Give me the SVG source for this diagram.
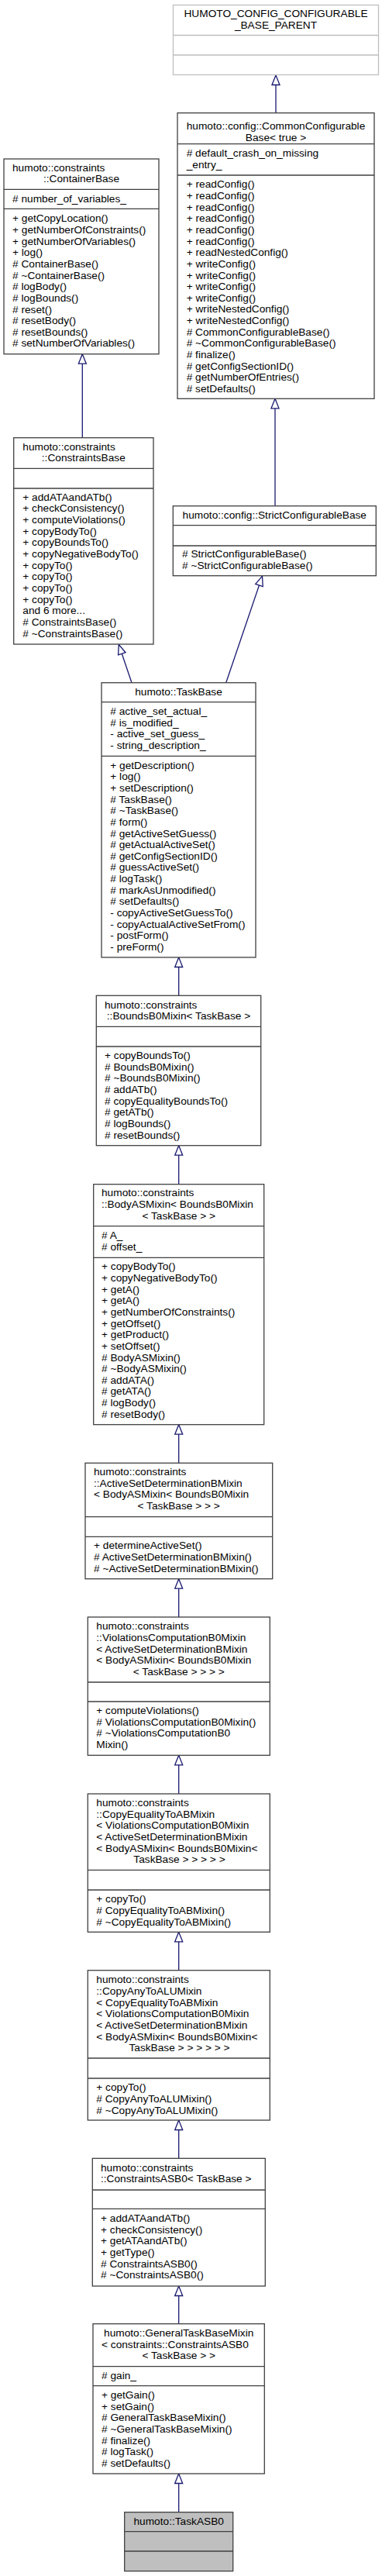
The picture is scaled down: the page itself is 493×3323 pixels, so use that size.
<svg xmlns="http://www.w3.org/2000/svg" width="493" height="3323" viewBox="0 0 493 3323">
<style>
text{font-family:"Liberation Sans",Arial,sans-serif;font-size:13.7px;fill:#000}
.m{text-anchor:middle}
.b{fill:#fff;stroke:#404040;stroke-width:1.3}
.s{stroke:#404040;stroke-width:1.3;fill:none}
.g{fill:#fff;stroke:#bfbfbf;stroke-width:1.3}
.gs{stroke:#bfbfbf;stroke-width:1.3;fill:none}
.e{stroke:#191970;stroke-width:1.3;fill:none;marker-end:url(#tri)}
</style>
<defs>
<marker id="tri" markerWidth="16" markerHeight="14" refX="14" refY="7" orient="auto" markerUnits="userSpaceOnUse" style="overflow:visible">
<path d="M1.5,2 L14,7 L1.5,12 Z" fill="#fff" stroke="#191970" stroke-width="1.3"/>
</marker>
</defs>
<rect width="493" height="3323" fill="#fff"/>
<g id="edges">
<path class="e" d="M356,145.7 V97"/>
<path class="e" d="M355,652.7 V514.3"/>
<path class="e" d="M106.3,564.7 V456.7"/>
<path class="e" d="M170,880.7 L153.3,831.5"/>
<path class="e" d="M291.7,880.7 L338.5,743.2"/>
<path class="e" d="M230.7,1284.3 V1235"/>
<path class="e" d="M230.7,1527.7 V1477.7"/>
<path class="e" d="M230.7,1887.3 V1837.7"/>
<path class="e" d="M230.7,2086 V2036.7"/>
<path class="e" d="M230.7,2314 V2264.3"/>
<path class="e" d="M230.7,2541.7 V2492.3"/>
<path class="e" d="M230.7,2784.3 V2735"/>
<path class="e" d="M230.7,2997.7 V2949"/>
<path class="e" d="M230.7,3240.7 V3191"/>
</g>
<g id="n_parent">
<rect class="g" x="223.5" y="6.5" width="265" height="90"/>
<path class="gs" d="M223.5,45.5 H488.5 M223.5,71 H488.5"/>
<text class="m" x="356" y="21.5">HUMOTO_CONFIG_CONFIGURABLE</text>
<text class="m" x="356" y="36.5">_BASE_PARENT</text>
</g>
<g id="n_common">
<rect class="b" x="229" y="145.7" width="254" height="368.6"/>
<path class="s" d="M229,185.7 H483 M229,226 H483"/>
<text class="m" x="356" y="166.7">humoto::config::CommonConfigurable</text>
<text class="m" x="356" y="181.7">Base&lt; true &gt;</text>
<text x="240.7" y="202.3">#  default_crash_on_missing</text>
<text x="240.7" y="217.3">_entry_</text>
<text x="240.7" y="242.3"><tspan x="240.7">+  readConfig()</tspan><tspan x="240.7" dy="14.65">+  readConfig()</tspan><tspan x="240.7" dy="14.65">+  readConfig()</tspan><tspan x="240.7" dy="14.65">+  readConfig()</tspan><tspan x="240.7" dy="14.65">+  readConfig()</tspan><tspan x="240.7" dy="14.65">+  readConfig()</tspan><tspan x="240.7" dy="14.65">+  readNestedConfig()</tspan><tspan x="240.7" dy="14.65">+  writeConfig()</tspan><tspan x="240.7" dy="14.65">+  writeConfig()</tspan><tspan x="240.7" dy="14.65">+  writeConfig()</tspan><tspan x="240.7" dy="14.65">+  writeConfig()</tspan><tspan x="240.7" dy="14.65">+  writeNestedConfig()</tspan><tspan x="240.7" dy="14.65">+  writeNestedConfig()</tspan><tspan x="240.7" dy="14.65">#  CommonConfigurableBase()</tspan><tspan x="240.7" dy="14.65">#  ~CommonConfigurableBase()</tspan><tspan x="240.7" dy="14.65">#  finalize()</tspan><tspan x="240.7" dy="14.65">#  getConfigSectionID()</tspan><tspan x="240.7" dy="14.65">#  getNumberOfEntries()</tspan><tspan x="240.7" dy="14.65">#  setDefaults()</tspan></text>
</g>
<g id="n_container">
<rect class="b" x="5" y="205" width="200" height="251.7"/>
<path class="s" d="M5,244.3 H205 M5,269.3 H205"/>
<text x="16" y="221">humoto::constraints</text>
<text class="m" x="105" y="235">::ContainerBase</text>
<text x="16" y="261">#  number_of_variables_</text>
<text x="16" y="286.3"><tspan x="16">+  getCopyLocation()</tspan><tspan x="16" dy="14.65">+  getNumberOfConstraints()</tspan><tspan x="16" dy="14.65">+  getNumberOfVariables()</tspan><tspan x="16" dy="14.65">+  log()</tspan><tspan x="16" dy="14.65">#  ContainerBase()</tspan><tspan x="16" dy="14.65">#  ~ContainerBase()</tspan><tspan x="16" dy="14.65">#  logBody()</tspan><tspan x="16" dy="14.65">#  logBounds()</tspan><tspan x="16" dy="14.65">#  reset()</tspan><tspan x="16" dy="14.65">#  resetBody()</tspan><tspan x="16" dy="14.65">#  resetBounds()</tspan><tspan x="16" dy="14.65">#  setNumberOfVariables()</tspan></text>
</g>
<g id="n_constraintsbase">
<rect class="b" x="17.7" y="564.7" width="180.3" height="266.3"/>
<path class="s" d="M17.7,604.3 H198 M17.7,630 H198"/>
<text x="29.3" y="581">humoto::constraints</text>
<text class="m" x="107.8" y="595">::ConstraintsBase</text>
<text x="29.3" y="645.7"><tspan x="29.3">+  addATAandATb()</tspan><tspan x="29.3" dy="14.67">+  checkConsistency()</tspan><tspan x="29.3" dy="14.67">+  computeViolations()</tspan><tspan x="29.3" dy="14.67">+  copyBodyTo()</tspan><tspan x="29.3" dy="14.67">+  copyBoundsTo()</tspan><tspan x="29.3" dy="14.67">+  copyNegativeBodyTo()</tspan><tspan x="29.3" dy="14.67">+  copyTo()</tspan><tspan x="29.3" dy="14.67">+  copyTo()</tspan><tspan x="29.3" dy="14.67">+  copyTo()</tspan><tspan x="29.3" dy="14.67">+  copyTo()</tspan><tspan x="29.3" dy="14.67">and 6 more...</tspan><tspan x="29.3" dy="14.67">#  ConstraintsBase()</tspan><tspan x="29.3" dy="14.67">#  ~ConstraintsBase()</tspan></text>
</g>
<g id="n_strict">
<rect class="b" x="223.3" y="652.7" width="262" height="90"/>
<path class="s" d="M223.3,677.7 H485.3 M223.3,704 H485.3"/>
<text class="m" x="354.3" y="669">humoto::config::StrictConfigurableBase</text>
<text x="235" y="719">#  StrictConfigurableBase()</text>
<text x="235" y="734">#  ~StrictConfigurableBase()</text>
</g>
<g id="n_taskbase">
<rect class="b" x="131" y="880.7" width="199" height="354.3"/>
<path class="s" d="M131,905.7 H330 M131,975.3 H330"/>
<text class="m" x="230.5" y="897.3">humoto::TaskBase</text>
<text x="142.3" y="922"><tspan x="142.3">#  active_set_actual_</tspan><tspan x="142.3" dy="14.67">#  is_modified_</tspan><tspan x="142.3" dy="14.67">-  active_set_guess_</tspan><tspan x="142.3" dy="14.67">-  string_description_</tspan></text>
<text x="142.3" y="991.7"><tspan x="142.3">+  getDescription()</tspan><tspan x="142.3" dy="14.64">+  log()</tspan><tspan x="142.3" dy="14.64">+  setDescription()</tspan><tspan x="142.3" dy="14.64">#  TaskBase()</tspan><tspan x="142.3" dy="14.64">#  ~TaskBase()</tspan><tspan x="142.3" dy="14.64">#  form()</tspan><tspan x="142.3" dy="14.64">#  getActiveSetGuess()</tspan><tspan x="142.3" dy="14.64">#  getActualActiveSet()</tspan><tspan x="142.3" dy="14.64">#  getConfigSectionID()</tspan><tspan x="142.3" dy="14.64">#  guessActiveSet()</tspan><tspan x="142.3" dy="14.64">#  logTask()</tspan><tspan x="142.3" dy="14.64">#  markAsUnmodified()</tspan><tspan x="142.3" dy="14.64">#  setDefaults()</tspan><tspan x="142.3" dy="14.64">-  copyActiveSetGuessTo()</tspan><tspan x="142.3" dy="14.64">-  copyActualActiveSetFrom()</tspan><tspan x="142.3" dy="14.64">-  postForm()</tspan><tspan x="142.3" dy="14.64">-  preForm()</tspan></text>
</g>
<g id="n_bounds">
<rect class="b" x="124.3" y="1284.3" width="212.4" height="193.4"/>
<path class="s" d="M124.3,1324.3 H336.7 M124.3,1350 H336.7"/>
<text x="135" y="1301">humoto::constraints</text>
<text class="m" x="230.5" y="1315">::BoundsB0Mixin&lt; TaskBase &gt;</text>
<text x="135" y="1366"><tspan x="135">+  copyBoundsTo()</tspan><tspan x="135" dy="14.65">#  BoundsB0Mixin()</tspan><tspan x="135" dy="14.65">#  ~BoundsB0Mixin()</tspan><tspan x="135" dy="14.65">#  addATb()</tspan><tspan x="135" dy="14.65">#  copyEqualityBoundsTo()</tspan><tspan x="135" dy="14.65">#  getATb()</tspan><tspan x="135" dy="14.65">#  logBounds()</tspan><tspan x="135" dy="14.65">#  resetBounds()</tspan></text>
</g>
<g id="n_bodyas">
<rect class="b" x="120.7" y="1527.7" width="220" height="310"/>
<path class="s" d="M120.7,1581.7 H340.7 M120.7,1622.3 H340.7"/>
<text x="131" y="1543.3">humoto::constraints</text>
<text x="131" y="1558.3">::BodyASMixin&lt; BoundsB0Mixin</text>
<text class="m" x="230.7" y="1572.7">&lt; TaskBase &gt; &gt;</text>
<text x="131" y="1598.3">#  A_</text>
<text x="131" y="1613.3">#  offset_</text>
<text x="131" y="1638.3"><tspan x="131">+  copyBodyTo()</tspan><tspan x="131" dy="14.65">+  copyNegativeBodyTo()</tspan><tspan x="131" dy="14.65">+  getA()</tspan><tspan x="131" dy="14.65">+  getA()</tspan><tspan x="131" dy="14.65">+  getNumberOfConstraints()</tspan><tspan x="131" dy="14.65">+  getOffset()</tspan><tspan x="131" dy="14.65">+  getProduct()</tspan><tspan x="131" dy="14.65">+  setOffset()</tspan><tspan x="131" dy="14.65">#  BodyASMixin()</tspan><tspan x="131" dy="14.65">#  ~BodyASMixin()</tspan><tspan x="131" dy="14.65">#  addATA()</tspan><tspan x="131" dy="14.65">#  getATA()</tspan><tspan x="131" dy="14.65">#  logBody()</tspan><tspan x="131" dy="14.65">#  resetBody()</tspan></text>
</g>
<g id="n_activeset">
<rect class="b" x="110" y="1887.3" width="241.7" height="149.4"/>
<path class="s" d="M110,1956.7 H351.7 M110,1982.3 H351.7"/>
<text x="121" y="1903.3"><tspan x="121">humoto::constraints</tspan><tspan x="121" dy="14.5">::ActiveSetDeterminationBMixin</tspan><tspan x="121" dy="14.5">&lt; BodyASMixin&lt; BoundsB0Mixin</tspan></text>
<text class="m" x="230.7" y="1946.8">&lt; TaskBase &gt; &gt; &gt;</text>
<text x="121" y="1998.3"><tspan x="121">+  determineActiveSet()</tspan><tspan x="121" dy="14.67">#  ActiveSetDeterminationBMixin()</tspan><tspan x="121" dy="14.67">#  ~ActiveSetDeterminationBMixin()</tspan></text>
</g>
<g id="n_violations">
<rect class="b" x="113.3" y="2086" width="235" height="178.3"/>
<path class="s" d="M113.3,2170 H348.3 M113.3,2195 H348.3"/>
<text x="124.3" y="2102.3"><tspan x="124.3">humoto::constraints</tspan><tspan x="124.3" dy="14.67">::ViolationsComputationB0Mixin</tspan><tspan x="124.3" dy="14.67">&lt; ActiveSetDeterminationBMixin</tspan><tspan x="124.3" dy="14.67">&lt; BodyASMixin&lt; BoundsB0Mixin</tspan></text>
<text class="m" x="230.8" y="2161">&lt; TaskBase &gt; &gt; &gt; &gt;</text>
<text x="124.3" y="2211"><tspan x="124.3">+  computeViolations()</tspan><tspan x="124.3" dy="14.67">#  ViolationsComputationB0Mixin()</tspan><tspan x="124.3" dy="14.67">#  ~ViolationsComputationB0</tspan><tspan x="124.3" dy="14.67">Mixin()</tspan></text>
</g>
<g id="n_copyeq">
<rect class="b" x="113.3" y="2314" width="235" height="178.3"/>
<path class="s" d="M113.3,2412.3 H348.3 M113.3,2438 H348.3"/>
<text x="124.3" y="2330"><tspan x="124.3">humoto::constraints</tspan><tspan x="124.3" dy="14.67">::CopyEqualityToABMixin</tspan><tspan x="124.3" dy="14.67">&lt; ViolationsComputationB0Mixin</tspan><tspan x="124.3" dy="14.67">&lt; ActiveSetDeterminationBMixin</tspan><tspan x="124.3" dy="14.67">&lt; BodyASMixin&lt; BoundsB0Mixin&lt;</tspan></text>
<text class="m" x="231.5" y="2403.3">TaskBase &gt; &gt; &gt; &gt; &gt;</text>
<text x="124.3" y="2454.3"><tspan x="124.3">+  copyTo()</tspan><tspan x="124.3" dy="14.67">#  CopyEqualityToABMixin()</tspan><tspan x="124.3" dy="14.67">#  ~CopyEqualityToABMixin()</tspan></text>
</g>
<g id="n_copyany">
<rect class="b" x="113.3" y="2541.7" width="235" height="193.3"/>
<path class="s" d="M113.3,2655 H348.3 M113.3,2681 H348.3"/>
<text x="124.3" y="2558.3"><tspan x="124.3">humoto::constraints</tspan><tspan x="124.3" dy="14.67">::CopyAnyToALUMixin</tspan><tspan x="124.3" dy="14.67">&lt; CopyEqualityToABMixin</tspan><tspan x="124.3" dy="14.67">&lt; ViolationsComputationB0Mixin</tspan><tspan x="124.3" dy="14.67">&lt; ActiveSetDeterminationBMixin</tspan><tspan x="124.3" dy="14.67">&lt; BodyASMixin&lt; BoundsB0Mixin&lt;</tspan></text>
<text class="m" x="231.5" y="2646.3">TaskBase &gt; &gt; &gt; &gt; &gt; &gt;</text>
<text x="124.3" y="2697.3"><tspan x="124.3">+  copyTo()</tspan><tspan x="124.3" dy="14.67">#  CopyAnyToALUMixin()</tspan><tspan x="124.3" dy="14.67">#  ~CopyAnyToALUMixin()</tspan></text>
</g>
<g id="n_asb0">
<rect class="b" x="119.3" y="2784.3" width="223" height="164.7"/>
<path class="s" d="M119.3,2825 H342.3 M119.3,2849.3 H342.3"/>
<text x="130" y="2801">humoto::constraints</text>
<text x="130" y="2815">::ConstraintsASB0&lt; TaskBase &gt;</text>
<text x="130" y="2866"><tspan x="130">+  addATAandATb()</tspan><tspan x="130" dy="14.67">+  checkConsistency()</tspan><tspan x="130" dy="14.67">+  getATAandATb()</tspan><tspan x="130" dy="14.67">+  getType()</tspan><tspan x="130" dy="14.67">#  ConstraintsASB0()</tspan><tspan x="130" dy="14.67">#  ~ConstraintsASB0()</tspan></text>
</g>
<g id="n_general">
<rect class="b" x="120" y="2997.7" width="221.3" height="193.3"/>
<path class="s" d="M120,3052.7 H341.3 M120,3077.7 H341.3"/>
<text class="m" x="230.7" y="3014.3">humoto::GeneralTaskBaseMixin</text>
<text x="131" y="3029">&lt; constraints::ConstraintsASB0</text>
<text class="m" x="230.7" y="3043.3">&lt; TaskBase &gt; &gt;</text>
<text x="131" y="3069.3">#  gain_</text>
<text x="131" y="3094"><tspan x="131">+  getGain()</tspan><tspan x="131" dy="14.67">+  setGain()</tspan><tspan x="131" dy="14.67">#  GeneralTaskBaseMixin()</tspan><tspan x="131" dy="14.67">#  ~GeneralTaskBaseMixin()</tspan><tspan x="131" dy="14.67">#  finalize()</tspan><tspan x="131" dy="14.67">#  logTask()</tspan><tspan x="131" dy="14.67">#  setDefaults()</tspan></text>
</g>
<g id="n_taskasb0">
<rect x="160.7" y="3240.7" width="140" height="76" fill="#bfbfbf" stroke="#404040" stroke-width="1.3"/>
<path class="s" d="M160.7,3265.7 H300.7 M160.7,3291 H300.7"/>
<text class="m" x="230.7" y="3257.3">humoto::TaskASB0</text>
</g>
</svg>
